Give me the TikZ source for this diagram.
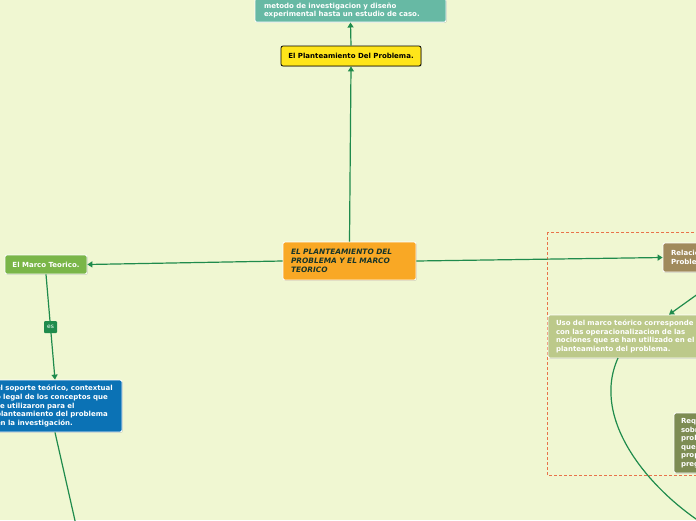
\documentclass[tikz,border=0pt]{standalone}
\usepackage{fontspec}
\setmainfont{DejaVu Sans}
\usetikzlibrary{arrows.meta,shadows}
\definecolor{bgc}{HTML}{F0F7D2}
\definecolor{linec}{HTML}{1F8B4C}
\definecolor{tealc}{HTML}{67B9A4}
\definecolor{yelc}{HTML}{FFE51A}
\definecolor{orc}{HTML}{F9A825}
\definecolor{grc}{HTML}{7AB648}
\definecolor{bluec}{HTML}{0B72B5}
\definecolor{brc}{HTML}{A08A5C}
\definecolor{usoc}{HTML}{BCC98A}
\definecolor{reqc}{HTML}{7D8C53}
\definecolor{dashc}{HTML}{E8734A}
\definecolor{darktxt}{HTML}{17352A}
\tikzset{
  box/.style={rectangle, rounded corners=2pt, draw=white, line width=0.8pt,
    drop shadow={shadow xshift=0.8pt, shadow yshift=-0.8pt, opacity=0.3},
    font=\fontsize{7}{8.6}\selectfont\bfseries, text=white, align=left,
    inner sep=0pt},
  conn/.style={draw=linec, line width=1.2pt, -{Triangle[length=5pt,width=6pt]}},
  plain/.style={draw=linec, line width=1.2pt},
  lbl/.style={fill=linec, rounded corners=1pt, text=white, font=\fontsize{6}{6}\selectfont, minimum width=13pt, minimum height=12pt, inner sep=1pt}
}
\begin{document}
\begin{tikzpicture}[x=1pt,y=-1pt]
\useasboundingbox (0,0) rectangle (696,520);
\fill[bgc] (0,0) rectangle (696,520);
\clip (0,0) rectangle (696,520);
% dashed frame
\draw[dashc, line width=0.8pt, dash pattern=on 3pt off 2pt] (547,232) rectangle (720,475);
% nodes
\node[box, fill=tealc, minimum width=191pt, text width=173pt, inner ysep=4pt, anchor=south] (teal) at (350.5,22.5)
  {metodo de investigacion y diseño\\experimental hasta un estudio de caso.};
\node[box, fill=yelc, draw=black, text=black, minimum width=140pt, minimum height=20pt, align=center] (yel) at (351,56)
  {El Planteamiento Del Problema.};
\node[box, fill=orc, text=darktxt, minimum width=133pt, minimum height=38pt, text width=117pt,
  font=\fontsize{7.4}{9}\selectfont\bfseries\itshape] (center) at (349.5,261)
  {EL PLANTEAMIENTO DEL\\PROBLEMA Y EL MARCO\\TEORICO};
\node[box, fill=grc, minimum width=82pt, minimum height=19pt, align=center] (marco) at (46,264.5)
  {El Marco Teorico.};
\node[box, fill=bluec, minimum width=134pt, minimum height=52pt, text width=118pt] (blue) at (55,406)
  {el soporte teórico, contextual\\o legal de los conceptos que\\se utilizaron para el\\planteamiento del problema\\en la investigación.};
\node[box, fill=brc, minimum width=130pt, minimum height=29pt, text width=114pt] (rel) at (728,257.5)
  {Relación con el\\Problema.};
\node[box, fill=usoc, minimum width=242pt, minimum height=43pt, text width=226pt] (uso) at (669,336.5)
  {Uso del marco teórico corresponde\\con las operacionalizacion de las\\nociones que se han utilizado en el\\planteamiento del problema.};
\node[box, fill=reqc, minimum width=130pt, minimum height=60pt, text width=116pt] (req) at (739,443)
  {Requiere\\sobre el\\problema\\que\\propuesto\\pregunta};
% connectors
\draw[conn] (center.north) -- (yel.south);
\draw[conn] (yel.north) -- (teal.south);
\draw[conn] (center.west) -- (marco.east);
\draw[conn] (marco.south) -- node[lbl] (es) {es} (blue.north);
\coordinate (blueout) at (76,525);
\draw[plain] (blue.south) -- (blueout);
\draw[conn] (center.east) -- (rel.west);
\draw[conn] (rel.south) -- (uso.north);
\coordinate (usoout) at (618,358);
\coordinate (curveend) at (705,525);
\draw[plain] (usoout) .. controls (590,420) and (650,490) .. (curveend);
\end{tikzpicture}
\end{document}
